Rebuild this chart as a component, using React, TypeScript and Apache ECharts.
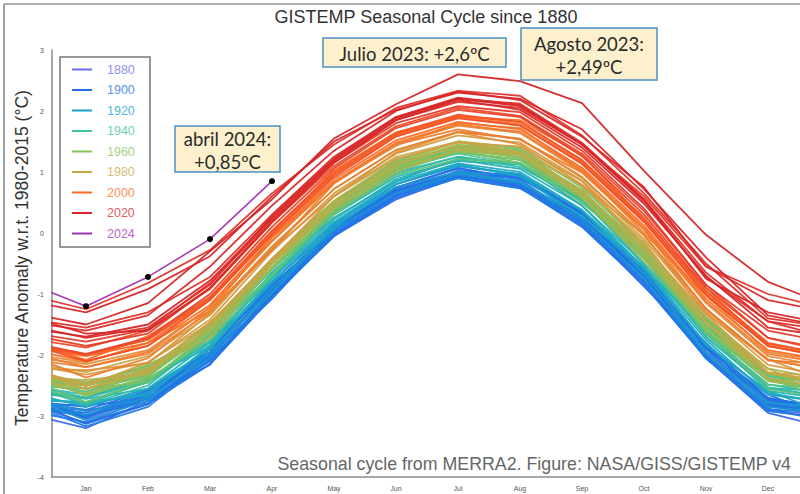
import React, { useEffect, useRef } from "react";
import * as echarts from "echarts";

// Month axis: slot 0 = previous December, 1..12 = Jan..Dec, 13 = following January
const monthLabels = ["Jan", "Feb", "Mar", "Apr", "May", "Jun", "Jul", "Aug", "Sep", "Oct", "Nov", "Dec"];
const monthSlots = [0, 1, 2, 3, 4, 5, 6, 7, 8, 9, 10, 11, 12, 13];
const labelSlots = [1, 2, 3, 4, 5, 6, 7, 8, 9, 10, 11, 12];

// Monthly global temperature (°C, w.r.t. 1980-2015), Dec(prev) .. Jan(next)
const t1880 = [-2.70, -3.05, -2.70, -1.95, -0.95, 0.05, 0.75, 1.00, 0.83, 0.25, -0.65, -1.95, -2.75, -2.90];
const t1882 = [-2.68, -3.01, -2.62, -1.98, -0.93, 0.10, 0.72, 0.98, 0.92, 0.35, -0.71, -1.83, -2.79, -2.93];
const t1884 = [-2.75, -3.12, -2.70, -2.10, -1.02, -0.05, 0.65, 0.95, 0.78, 0.15, -0.80, -2.00, -2.90, -3.00];
const t1886 = [-2.86, -2.90, -2.79, -1.97, -0.92, -0.05, 0.67, 1.00, 0.80, 0.14, -0.68, -1.97, -2.72, -3.10];
const t1888 = [-2.85, -3.00, -2.65, -2.05, -0.90, 0.00, 0.70, 0.98, 0.82, 0.25, -0.70, -1.95, -2.80, -2.95];
const t1890 = [-2.85, -3.00, -2.68, -2.16, -0.95, -0.05, 0.55, 0.92, 0.84, 0.15, -0.88, -1.90, -2.83, -3.00];
const t1892 = [-2.95, -3.20, -2.75, -2.15, -1.05, -0.02, 0.62, 0.93, 0.76, 0.12, -0.82, -2.05, -2.95, -3.20];
const t1894 = [-2.73, -3.13, -2.81, -2.02, -1.04, 0.05, 0.69, 0.94, 0.77, 0.23, -0.70, -2.02, -2.85, -2.91];
const t1896 = [-2.80, -2.95, -2.60, -1.90, -0.88, 0.08, 0.75, 1.05, 0.90, 0.32, -0.62, -1.88, -2.72, -2.85];
const t1898 = [-2.70, -3.03, -2.64, -2.00, -0.95, 0.08, 0.70, 0.96, 0.90, 0.33, -0.73, -1.85, -2.81, -2.95];
const t1900 = [-2.75, -2.85, -2.55, -1.95, -0.80, 0.15, 0.80, 1.10, 0.95, 0.30, -0.65, -1.85, -2.70, -2.90];
const t1902 = [-2.75, -2.90, -2.58, -2.06, -0.85, 0.05, 0.65, 1.02, 0.94, 0.25, -0.78, -1.80, -2.73, -2.90];
const t1904 = [-2.80, -3.00, -2.75, -2.10, -1.00, -0.05, 0.60, 0.94, 0.80, 0.18, -0.78, -1.95, -2.88, -3.10];
const t1906 = [-2.79, -2.83, -2.72, -1.90, -0.85, 0.02, 0.74, 1.07, 0.87, 0.21, -0.61, -1.90, -2.65, -3.03];
const t1908 = [-2.90, -3.10, -2.80, -2.15, -1.05, -0.05, 0.58, 0.90, 0.74, 0.10, -0.85, -2.05, -2.92, -3.05];
const t1910 = [-2.77, -3.17, -2.85, -2.06, -1.08, 0.01, 0.65, 0.90, 0.73, 0.19, -0.74, -2.06, -2.89, -2.95];
const t1912 = [-2.85, -2.98, -2.72, -2.00, -0.97, 0.02, 0.65, 0.95, 0.80, 0.16, -0.78, -1.97, -2.78, -2.95];
const t1914 = [-2.66, -2.99, -2.60, -1.96, -0.91, 0.12, 0.74, 1.00, 0.94, 0.37, -0.69, -1.81, -2.77, -2.91];
const t1916 = [-2.70, -2.92, -2.70, -2.05, -0.90, 0.05, 0.66, 0.97, 0.85, 0.22, -0.75, -1.98, -2.85, -2.95];
const t1918 = [-2.67, -3.07, -2.75, -1.96, -0.98, 0.11, 0.75, 1.00, 0.83, 0.29, -0.64, -1.96, -2.79, -2.85];
const t1920 = [-2.70, -2.80, -2.62, -1.88, -0.82, 0.15, 0.80, 1.10, 0.97, 0.36, -0.58, -1.82, -2.62, -2.80];
const t1922 = [-2.73, -2.77, -2.66, -1.84, -0.79, 0.08, 0.80, 1.13, 0.93, 0.27, -0.55, -1.84, -2.59, -2.97];
const t1924 = [-2.60, -2.85, -2.55, -1.90, -0.75, 0.18, 0.84, 1.14, 1.00, 0.38, -0.55, -1.75, -2.65, -2.78];
const t1926 = [-2.55, -2.70, -2.38, -1.86, -0.65, 0.25, 0.85, 1.22, 1.14, 0.45, -0.58, -1.60, -2.53, -2.70];
const t1928 = [-2.60, -2.72, -2.55, -1.80, -0.72, 0.22, 0.88, 1.20, 1.05, 0.45, -0.50, -1.70, -2.55, -2.70];
const t1930 = [-2.48, -2.81, -2.42, -1.78, -0.73, 0.30, 0.92, 1.18, 1.12, 0.55, -0.51, -1.63, -2.59, -2.73];
const t1932 = [-2.50, -2.65, -2.45, -1.78, -0.65, 0.30, 0.97, 1.25, 1.12, 0.52, -0.42, -1.65, -2.48, -2.65];
const t1934 = [-2.42, -2.82, -2.50, -1.71, -0.73, 0.36, 1.00, 1.25, 1.08, 0.54, -0.39, -1.71, -2.54, -2.60];
const t1936 = [-2.48, -2.70, -2.45, -1.68, -0.60, 0.35, 1.02, 1.32, 1.20, 0.56, -0.38, -1.60, -2.42, -2.60];
const t1938 = [-2.43, -2.47, -2.36, -1.54, -0.49, 0.38, 1.10, 1.43, 1.23, 0.57, -0.25, -1.54, -2.29, -2.67];
const t1940 = [-2.40, -2.60, -2.32, -1.60, -0.48, 0.45, 1.10, 1.42, 1.30, 0.66, -0.28, -1.50, -2.35, -2.50];
const t1942 = [-2.35, -2.50, -2.18, -1.66, -0.45, 0.45, 1.05, 1.42, 1.34, 0.65, -0.38, -1.40, -2.33, -2.50];
const t1944 = [-2.30, -2.45, -2.22, -1.50, -0.42, 0.52, 1.18, 1.50, 1.38, 0.75, -0.20, -1.42, -2.30, -2.50];
const t1946 = [-2.37, -2.77, -2.45, -1.66, -0.68, 0.41, 1.05, 1.30, 1.13, 0.59, -0.34, -1.66, -2.49, -2.55];
const t1948 = [-2.35, -2.55, -2.35, -1.62, -0.50, 0.42, 1.08, 1.38, 1.25, 0.62, -0.32, -1.55, -2.40, -2.55];
const t1950 = [-2.45, -2.78, -2.39, -1.75, -0.70, 0.33, 0.95, 1.21, 1.15, 0.58, -0.48, -1.60, -2.56, -2.70];
const t1952 = [-2.35, -2.50, -2.28, -1.56, -0.50, 0.47, 1.12, 1.43, 1.30, 0.68, -0.27, -1.48, -2.32, -2.50];
const t1954 = [-2.51, -2.55, -2.44, -1.62, -0.57, 0.30, 1.02, 1.35, 1.15, 0.49, -0.33, -1.62, -2.37, -2.75];
const t1956 = [-2.40, -2.62, -2.40, -1.70, -0.58, 0.36, 1.02, 1.33, 1.20, 0.56, -0.40, -1.60, -2.42, -2.60];
const t1958 = [-2.33, -2.48, -2.16, -1.64, -0.43, 0.47, 1.07, 1.44, 1.36, 0.67, -0.36, -1.38, -2.31, -2.48];
const t1960 = [-2.32, -2.50, -2.25, -1.60, -0.45, 0.50, 1.14, 1.45, 1.32, 0.70, -0.26, -1.45, -2.30, -2.48];
const t1962 = [-2.27, -2.67, -2.35, -1.56, -0.58, 0.51, 1.15, 1.40, 1.23, 0.69, -0.24, -1.56, -2.39, -2.45];
const t1964 = [-2.38, -2.55, -2.32, -1.62, -0.55, 0.40, 1.06, 1.36, 1.24, 0.60, -0.36, -1.55, -2.40, -2.60];
const t1966 = [-2.32, -2.65, -2.26, -1.62, -0.57, 0.46, 1.08, 1.34, 1.28, 0.71, -0.35, -1.47, -2.43, -2.57];
const t1968 = [-2.30, -2.55, -2.30, -1.55, -0.47, 0.47, 1.12, 1.42, 1.30, 0.67, -0.27, -1.46, -2.28, -2.50];
const t1970 = [-2.37, -2.41, -2.30, -1.48, -0.43, 0.44, 1.16, 1.49, 1.29, 0.63, -0.19, -1.48, -2.23, -2.61];
const t1972 = [-2.28, -2.48, -2.20, -1.52, -0.42, 0.53, 1.20, 1.50, 1.40, 0.76, -0.18, -1.38, -2.22, -2.42];
const t1974 = [-2.40, -2.55, -2.23, -1.71, -0.50, 0.40, 1.00, 1.37, 1.29, 0.60, -0.43, -1.45, -2.38, -2.55];
const t1976 = [-2.25, -2.45, -2.28, -1.55, -0.48, 0.48, 1.12, 1.43, 1.30, 0.68, -0.28, -1.48, -2.30, -2.48];
const t1978 = [-2.17, -2.57, -2.25, -1.46, -0.48, 0.61, 1.25, 1.50, 1.33, 0.79, -0.14, -1.46, -2.29, -2.35];
const t1980 = [-2.12, -2.28, -2.02, -1.35, -0.24, 0.72, 1.36, 1.66, 1.55, 0.90, -0.04, -1.24, -2.08, -2.25];
const t1982 = [-2.18, -2.51, -2.12, -1.48, -0.43, 0.60, 1.22, 1.48, 1.42, 0.85, -0.21, -1.33, -2.29, -2.43];
const t1984 = [-2.15, -2.32, -2.12, -1.42, -0.30, 0.65, 1.30, 1.60, 1.48, 0.86, -0.10, -1.30, -2.16, -2.35];
const t1986 = [-2.21, -2.25, -2.14, -1.32, -0.27, 0.60, 1.32, 1.65, 1.45, 0.79, -0.03, -1.32, -2.07, -2.45];
const t1988 = [-2.02, -2.15, -1.92, -1.22, -0.14, 0.82, 1.46, 1.76, 1.64, 1.00, 0.06, -1.15, -2.02, -2.20];
const t1990 = [-1.97, -2.12, -1.80, -1.28, -0.07, 0.83, 1.43, 1.80, 1.72, 1.03, 0.00, -1.02, -1.95, -2.12];
const t1992 = [-2.05, -2.20, -1.98, -1.30, -0.22, 0.72, 1.36, 1.66, 1.54, 0.92, -0.04, -1.24, -2.08, -2.25];
const t1994 = [-1.97, -2.37, -2.05, -1.26, -0.28, 0.81, 1.45, 1.70, 1.53, 0.99, 0.06, -1.26, -2.09, -2.15];
const t1996 = [-1.95, -2.20, -1.95, -1.22, -0.12, 0.84, 1.48, 1.78, 1.66, 1.03, 0.08, -1.12, -1.98, -2.15];
const t1998 = [-1.75, -2.08, -1.69, -1.05, 0.00, 1.03, 1.65, 1.91, 1.85, 1.28, 0.22, -0.90, -1.86, -2.00];
const t2000 = [-1.90, -2.10, -1.85, -1.18, -0.07, 0.88, 1.52, 1.82, 1.70, 1.07, 0.12, -1.08, -1.92, -2.10];
const t2002 = [-1.85, -2.02, -1.80, -1.10, 0.00, 0.95, 1.60, 1.90, 1.78, 1.15, 0.20, -1.00, -1.85, -2.05];
const t2004 = [-1.85, -2.00, -1.75, -1.08, 0.03, 0.97, 1.62, 1.92, 1.82, 1.18, 0.22, -0.96, -1.82, -2.00];
const t2006 = [-1.80, -2.00, -1.75, -1.05, 0.04, 1.00, 1.64, 1.94, 1.82, 1.20, 0.25, -0.95, -1.80, -2.00];
const t2008 = [-1.80, -2.10, -1.85, -1.10, -0.03, 0.92, 1.58, 1.88, 1.76, 1.13, 0.18, -1.02, -1.85, -2.05];
const t2010 = [-1.72, -1.88, -1.60, -0.92, 0.17, 1.10, 1.75, 2.05, 1.92, 1.30, 0.36, -0.85, -1.72, -1.95];
const t2012 = [-1.78, -1.98, -1.72, -1.00, 0.10, 1.06, 1.72, 2.02, 1.90, 1.26, 0.30, -0.90, -1.72, -1.92];
const t2014 = [-1.65, -1.85, -1.65, -0.90, 0.20, 1.15, 1.80, 2.08, 1.98, 1.35, 0.40, -0.85, -1.60, -1.80];
const t2015 = [-1.62, -1.78, -1.58, -0.82, 0.22, 1.18, 1.85, 2.15, 2.05, 1.45, 0.60, -0.55, -1.00, -1.25];
const t2016 = [-1.00, -1.25, -0.82, -0.28, 0.65, 1.45, 2.05, 2.33, 2.25, 1.60, 0.65, -0.50, -1.40, -1.55];
const t2017 = [-1.40, -1.55, -1.30, -0.72, 0.30, 1.25, 1.90, 2.20, 2.12, 1.48, 0.55, -0.65, -1.45, -1.72];
const t2018 = [-1.50, -1.72, -1.55, -0.85, 0.28, 1.22, 1.90, 2.22, 2.10, 1.45, 0.52, -0.72, -1.45, -1.60];
const t2019 = [-1.45, -1.60, -1.35, -0.55, 0.45, 1.35, 2.00, 2.32, 2.18, 1.58, 0.75, -0.55, -1.10, -1.30];
const t2020 = [-1.10, -1.30, -0.92, -0.38, 0.60, 1.50, 2.02, 2.30, 2.20, 1.70, 0.72, -0.40, -1.35, -1.55];
const t2021 = [-1.35, -1.65, -1.60, -0.90, 0.18, 1.15, 1.85, 2.18, 2.02, 1.40, 0.48, -0.70, -1.55, -1.70];
const t2022 = [-1.55, -1.70, -1.50, -0.78, 0.25, 1.20, 1.88, 2.20, 2.08, 1.45, 0.55, -0.75, -1.30, -1.50];
const t2023 = [-1.30, -1.50, -1.15, -0.30, 0.55, 1.55, 2.11, 2.60, 2.49, 2.13, 1.02, -0.03, -0.80, -1.20];
const t2024 = [-0.80, -1.20, -0.72, -0.10, 0.85];

const yearRows: [number, number[]][] = [
  [1880, t1880], [1882, t1882], [1884, t1884], [1886, t1886], [1888, t1888],
  [1890, t1890], [1892, t1892], [1894, t1894], [1896, t1896], [1898, t1898],
  [1900, t1900], [1902, t1902], [1904, t1904], [1906, t1906], [1908, t1908],
  [1910, t1910], [1912, t1912], [1914, t1914], [1916, t1916], [1918, t1918],
  [1920, t1920], [1922, t1922], [1924, t1924], [1926, t1926], [1928, t1928],
  [1930, t1930], [1932, t1932], [1934, t1934], [1936, t1936], [1938, t1938],
  [1940, t1940], [1942, t1942], [1944, t1944], [1946, t1946], [1948, t1948],
  [1950, t1950], [1952, t1952], [1954, t1954], [1956, t1956], [1958, t1958],
  [1960, t1960], [1962, t1962], [1964, t1964], [1966, t1966], [1968, t1968],
  [1970, t1970], [1972, t1972], [1974, t1974], [1976, t1976], [1978, t1978],
  [1980, t1980], [1982, t1982], [1984, t1984], [1986, t1986], [1988, t1988],
  [1990, t1990], [1992, t1992], [1994, t1994], [1996, t1996], [1998, t1998],
  [2000, t2000], [2002, t2002], [2004, t2004], [2006, t2006], [2008, t2008],
  [2010, t2010], [2012, t2012], [2014, t2014], [2015, t2015], [2016, t2016],
  [2017, t2017], [2018, t2018], [2019, t2019], [2020, t2020], [2021, t2021],
  [2022, t2022], [2023, t2023], [2024, t2024],
];

const legendYears = [1880, 1900, 1920, 1940, 1960, 1980, 2000, 2020, 2024];
const yTicks = [-4, -3, -2, -1, 0, 1, 2, 3];

// Year -> colour ramp (blue -> cyan -> green -> tan -> orange -> red, purple for 2024)
const colorStops: [number, number[]][] = [
  [1880, [104, 108, 240]],
  [1895, [40, 104, 232]],
  [1908, [28, 118, 230]],
  [1922, [26, 168, 198]],
  [1940, [62, 195, 154]],
  [1960, [134, 194, 88]],
  [1980, [203, 166, 70]],
  [2000, [255, 106, 36]],
  [2020, [216, 38, 42]],
  [2023, [212, 38, 40]],
  [2024, [160, 50, 180]],
];

function rgb(c: number[]) {
  return `rgb(${Math.round(c[0])},${Math.round(c[1])},${Math.round(c[2])})`;
}

function yearColorArr(year: number): number[] {
  if (year <= colorStops[0][0]) return colorStops[0][1];
  for (let i = 1; i < colorStops.length; i++) {
    const [y1, c1] = colorStops[i];
    const [y0, c0] = colorStops[i - 1];
    if (year <= y1) {
      const f = (year - y0) / (y1 - y0);
      return c0.map((v, k) => v + (c1[k] - v) * f);
    }
  }
  return colorStops[colorStops.length - 1][1];
}

const yearColor = (year: number) => rgb(yearColorArr(year));
const lightColor = (year: number) => rgb(yearColorArr(year).map((v) => v + (255 - v) * 0.25));

const fmt = (v: number) => v.toString().replace(".", ",");

const annFont = "Lato, 'Open Sans', sans-serif";
const baseFont = "'Liberation Sans', Arial, sans-serif";

export default function App() {
  const ref = useRef<HTMLDivElement>(null);

  useEffect(() => {
    document.body.style.margin = "0";
    if (!ref.current) return;
    const chart = echarts.init(ref.current, null, { renderer: "svg" });

    const series = yearRows.map(([year, vals]) => {
      const is2024 = year === 2024;
      return {
        type: "line",
        name: String(year),
        silent: true,
        data: vals.map((v, i) =>
          is2024 && i === 0
            ? { value: [monthSlots[i], v], symbol: "none" }
            : { value: [monthSlots[i], v] }
        ),
        showSymbol: is2024,
        symbol: "circle",
        symbolSize: 6,
        itemStyle: { color: "#000" },
        lineStyle: { color: yearColor(year), width: is2024 ? 1.6 : 1.8, opacity: 0.95 },
        z: 2,
      };
    });

    const jul2023 = t2023[7];
    const aug2023 = t2023[8];
    const apr2024 = t2024[4];

    const legendChildren: any[] = [
      {
        type: "rect",
        shape: { x: 60, y: 57, width: 90, height: 190 },
        style: { fill: "#fff", stroke: "#777", lineWidth: 1.5 },
      },
    ];
    legendYears.forEach((yr, i) => {
      const cy = 69.5 + i * 20.5;
      legendChildren.push({
        type: "line",
        shape: { x1: 72, y1: cy, x2: 92, y2: cy },
        style: { stroke: yearColor(yr), lineWidth: 2 },
      });
      legendChildren.push({
        type: "text",
        x: 107,
        y: cy,
        style: {
          text: String(yr),
          fill: lightColor(yr),
          font: `12.5px ${baseFont}`,
          verticalAlign: "middle",
        },
      });
    });

    const box = (x: number, y: number, w: number, h: number, text: string) => [
      {
        type: "rect",
        shape: { x, y, width: w, height: h },
        style: { fill: "#fdf1cd", stroke: "#4b8fc4", lineWidth: 1.5 },
        z: 20,
      },
      {
        type: "text",
        x: x + w / 2,
        y: y + h / 2 + 1,
        z: 21,
        style: {
          text,
          fill: "#2b2b2b",
          font: `18.5px ${annFont}`,
          align: "center",
          verticalAlign: "middle",
          lineHeight: 23,
        },
      },
    ];

    chart.setOption({
      animation: false,
      backgroundColor: "#fff",
      grid: { left: 52, right: 0, top: 50, bottom: 17, containLabel: false, outerBoundsMode: "none" },
      xAxis: {
        type: "value",
        min: 0.452,
        max: 12.516,
        axisLine: { show: true, onZero: false, lineStyle: { color: "#8a8a8a", width: 1.5 } },
        axisTick: { show: false },
        splitLine: { show: false },
        axisLabel: {
          customValues: labelSlots,
          formatter: (v: number) => monthLabels[Math.round(v) - 1] ?? "",
          fontSize: 7,
          color: () => "#555",
          margin: 8,
          fontFamily: baseFont,
        },
      },
      yAxis: {
        type: "value",
        min: yTicks[0],
        max: yTicks[yTicks.length - 1],
        interval: 1,
        axisLine: { show: true, lineStyle: { color: "#8a8a8a", width: 1.5 } },
        axisTick: { show: false },
        splitLine: { show: false },
        axisLabel: { fontSize: 7, color: "#555", margin: 8, fontFamily: baseFont },
      },
      series,
      graphic: [
        // image frame
        { type: "line", shape: { x1: 4, y1: 4, x2: 800, y2: 4 }, style: { stroke: "#666", lineWidth: 1.2 } },
        { type: "line", shape: { x1: 4, y1: 4, x2: 4, y2: 494 }, style: { stroke: "#666", lineWidth: 1.2 } },
        {
          type: "text",
          x: 426,
          y: 17,
          style: {
            text: "GISTEMP Seasonal Cycle since 1880",
            fill: "#333",
            font: `18px ${baseFont}`,
            align: "center",
            verticalAlign: "middle",
          },
        },
        {
          type: "text",
          x: 22,
          y: 258,
          rotation: Math.PI / 2,
          style: {
            text: "Temperature Anomaly w.r.t. 1980-2015 (°C)",
            fill: "#333",
            font: `17.5px ${baseFont}`,
            align: "center",
            verticalAlign: "middle",
          },
        },
        {
          type: "text",
          x: 791,
          y: 464,
          style: {
            text: "Seasonal cycle from MERRA2. Figure: NASA/GISS/GISTEMP v4",
            fill: "#666",
            font: `17.8px ${baseFont}`,
            align: "right",
            verticalAlign: "middle",
          },
        },
        { type: "group", children: legendChildren, z: 10 },
        { type: "group", children: box(323, 38, 183, 29, `Julio 2023: +${fmt(jul2023)}ºC`) },
        { type: "group", children: box(521, 28, 136, 52, `Agosto 2023:\n+${fmt(aug2023)}ºC`) },
        { type: "group", children: box(175, 126, 105, 46, `abril 2024:\n+${fmt(apr2024)}ºC`) },
      ],
    });

    return () => chart.dispose();
  }, []);

  return <div ref={ref} style={{ width: 800, height: 494 }} />;
}
